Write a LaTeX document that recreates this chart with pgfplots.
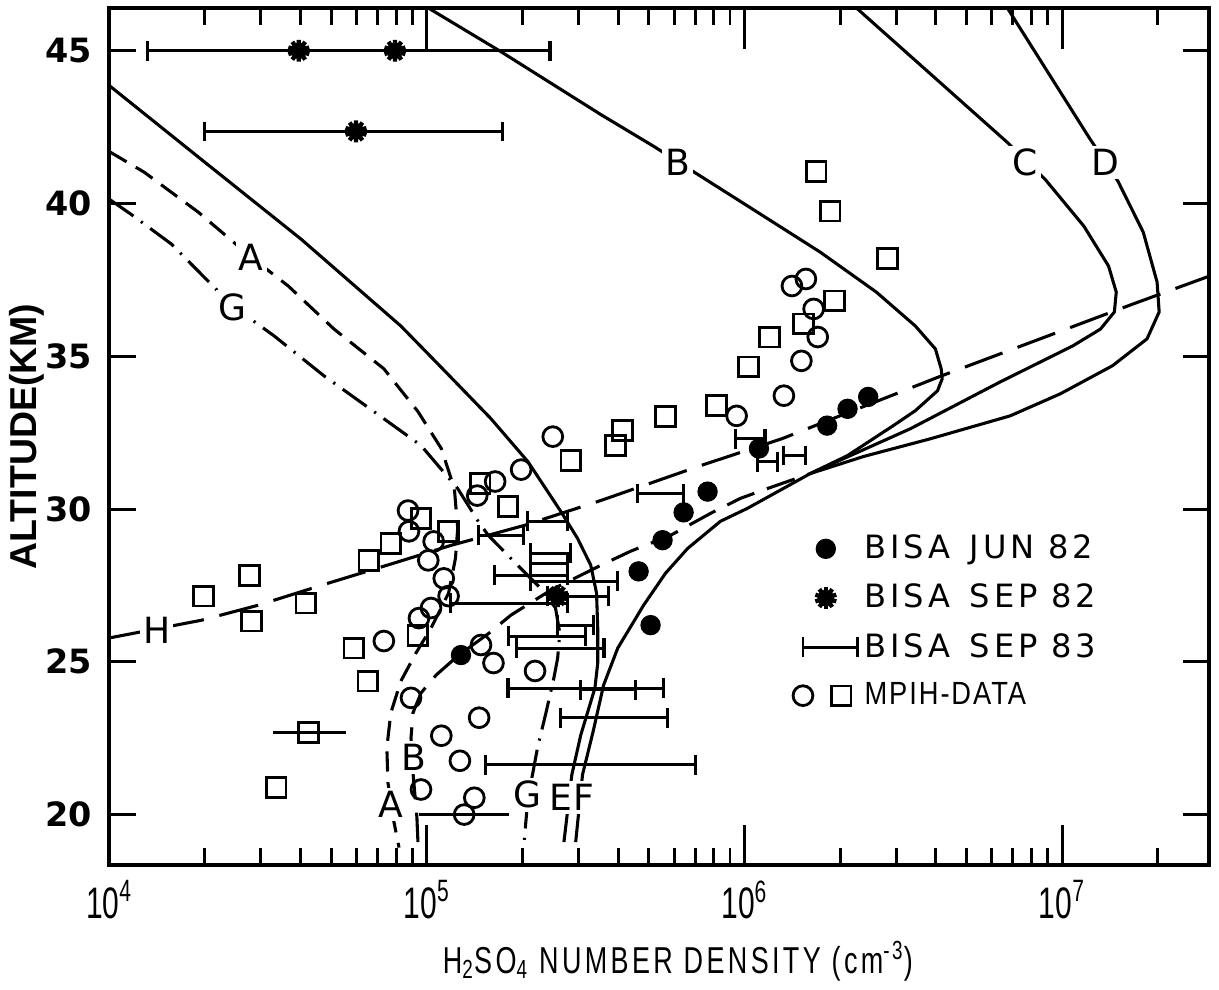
\documentclass[border=0pt]{standalone}
\usepackage{fontspec}
\setmainfont{DejaVu Sans}
\newfontfamily\condfont[FakeStretch=0.68]{Liberation Sans}
\newfontfamily\xlabfont[FakeStretch=0.72,LetterSpace=9]{Liberation Sans}
\newfontfamily\ylabfont{Liberation Sans}
\newfontfamily\legfont[LetterSpace=12]{DejaVu Sans}
\newfontfamily\mpihfont[FakeStretch=0.85,LetterSpace=6]{Liberation Sans}
\usepackage{pgfplots}
\pgfplotsset{compat=1.18}

\pgfplotsset{
  curve/.style={black, line width=1.15pt, no markers, forget plot},
  ebar/.style={black, line width=1.15pt, mark=|, mark size=3.7pt, mark options={solid}, forget plot},
  pbar/.style={black, line width=1.15pt, no markers, forget plot},
  tk/.style={black, line width=1.1pt, no markers, forget plot},
}
\tikzset{lab/.style={fill=white, inner sep=1.2pt, font=\fontsize{13.5}{13.5}\selectfont}}

\begin{document}
\begin{tikzpicture}
\begin{axis}[
  scale only axis,
  width=14.45cm, height=11.26cm,
  xmode=log, xmin=1e4, xmax=2.9e7,
  ymin=18.35, ymax=46.4,
  axis line style={line width=1.5pt},
  tick style={black, line width=1.1pt},
  xtick={1e4,1e5,1e6,1e7},
  xticklabels={10\textsuperscript{4},10\textsuperscript{5},10\textsuperscript{6},10\textsuperscript{7}},
  xticklabel style={font=\condfont\fontsize{16.5}{16.5}\selectfont, yshift=-0.08cm},
  ytick={20,25,30,35,40,45},
  yticklabels={20,25,30,35,40,45},
  yticklabel style={font=\fontsize{12.5}{13}\selectfont\bfseries, xshift=-0.1cm},
  xlabel={H\textsubscript{2}SO\textsubscript{4} NUMBER DENSITY (cm\textsuperscript{-3})},
  ylabel={ALTITUDE(KM)},
  every axis x label/.style={at={(axis description cs:0.517,-0.112)}, anchor=center, font=\xlabfont\fontsize{14}{14}\selectfont},
  every axis y label/.style={at={(axis description cs:-0.0754,0.5)}, rotate=90, anchor=center, font=\ylabfont\bfseries\fontsize{14}{14}\selectfont},
  legend style={draw=none, fill=none, at={(0.62,0.392)}, anchor=north west, row sep=4pt, inner sep=0pt, font=\legfont\fontsize{12}{12}\selectfont},
  legend cell align=left,
]

% tick marks as short segments inside the frame
\addplot[tk] coordinates {(1e5,18.35) (1e5,19.65)};
\addplot[tk] coordinates {(1e6,18.35) (1e6,19.65)};
\addplot[tk] coordinates {(1e7,18.35) (1e7,19.65)};
\addplot[tk] coordinates {(1e5,46.4) (1e5,45.05)};
\addplot[tk] coordinates {(1e6,46.4) (1e6,45.05)};
\addplot[tk] coordinates {(1e7,46.4) (1e7,45.05)};
\addplot[tk] coordinates {(2e4,18.35) (2e4,18.9)};
\addplot[tk] coordinates {(3e4,18.35) (3e4,18.9)};
\addplot[tk] coordinates {(4e4,18.35) (4e4,18.9)};
\addplot[tk] coordinates {(5e4,18.35) (5e4,18.9)};
\addplot[tk] coordinates {(6e4,18.35) (6e4,18.9)};
\addplot[tk] coordinates {(7e4,18.35) (7e4,18.9)};
\addplot[tk] coordinates {(8e4,18.35) (8e4,18.9)};
\addplot[tk] coordinates {(9e4,18.35) (9e4,18.9)};
\addplot[tk] coordinates {(2e5,18.35) (2e5,18.9)};
\addplot[tk] coordinates {(3e5,18.35) (3e5,18.9)};
\addplot[tk] coordinates {(4e5,18.35) (4e5,18.9)};
\addplot[tk] coordinates {(5e5,18.35) (5e5,18.9)};
\addplot[tk] coordinates {(6e5,18.35) (6e5,18.9)};
\addplot[tk] coordinates {(7e5,18.35) (7e5,18.9)};
\addplot[tk] coordinates {(8e5,18.35) (8e5,18.9)};
\addplot[tk] coordinates {(9e5,18.35) (9e5,18.9)};
\addplot[tk] coordinates {(2e6,18.35) (2e6,18.9)};
\addplot[tk] coordinates {(3e6,18.35) (3e6,18.9)};
\addplot[tk] coordinates {(4e6,18.35) (4e6,18.9)};
\addplot[tk] coordinates {(5e6,18.35) (5e6,18.9)};
\addplot[tk] coordinates {(6e6,18.35) (6e6,18.9)};
\addplot[tk] coordinates {(7e6,18.35) (7e6,18.9)};
\addplot[tk] coordinates {(8e6,18.35) (8e6,18.9)};
\addplot[tk] coordinates {(9e6,18.35) (9e6,18.9)};
\addplot[tk] coordinates {(2e7,18.35) (2e7,18.9)};
\addplot[tk] coordinates {(2e4,46.4) (2e4,45.85)};
\addplot[tk] coordinates {(3e4,46.4) (3e4,45.85)};
\addplot[tk] coordinates {(4e4,46.4) (4e4,45.85)};
\addplot[tk] coordinates {(5e4,46.4) (5e4,45.85)};
\addplot[tk] coordinates {(6e4,46.4) (6e4,45.85)};
\addplot[tk] coordinates {(7e4,46.4) (7e4,45.85)};
\addplot[tk] coordinates {(8e4,46.4) (8e4,45.85)};
\addplot[tk] coordinates {(9e4,46.4) (9e4,45.85)};
\addplot[tk] coordinates {(2e5,46.4) (2e5,45.85)};
\addplot[tk] coordinates {(3e5,46.4) (3e5,45.85)};
\addplot[tk] coordinates {(4e5,46.4) (4e5,45.85)};
\addplot[tk] coordinates {(5e5,46.4) (5e5,45.85)};
\addplot[tk] coordinates {(6e5,46.4) (6e5,45.85)};
\addplot[tk] coordinates {(7e5,46.4) (7e5,45.85)};
\addplot[tk] coordinates {(8e5,46.4) (8e5,45.85)};
\addplot[tk] coordinates {(9e5,46.4) (9e5,45.85)};
\addplot[tk] coordinates {(2e6,46.4) (2e6,45.85)};
\addplot[tk] coordinates {(3e6,46.4) (3e6,45.85)};
\addplot[tk] coordinates {(4e6,46.4) (4e6,45.85)};
\addplot[tk] coordinates {(5e6,46.4) (5e6,45.85)};
\addplot[tk] coordinates {(6e6,46.4) (6e6,45.85)};
\addplot[tk] coordinates {(7e6,46.4) (7e6,45.85)};
\addplot[tk] coordinates {(8e6,46.4) (8e6,45.85)};
\addplot[tk] coordinates {(9e6,46.4) (9e6,45.85)};
\addplot[tk] coordinates {(2e7,46.4) (2e7,45.85)};
\addplot[tk] coordinates {(1e4,20) (1.21e4,20)};
\addplot[tk] coordinates {(1e4,25) (1.21e4,25)};
\addplot[tk] coordinates {(1e4,30) (1.21e4,30)};
\addplot[tk] coordinates {(1e4,35) (1.21e4,35)};
\addplot[tk] coordinates {(1e4,40) (1.21e4,40)};
\addplot[tk] coordinates {(1e4,45) (1.21e4,45)};
\addplot[tk] coordinates {(2.9e7,20) (2.4e7,20)};
\addplot[tk] coordinates {(2.9e7,25) (2.4e7,25)};
\addplot[tk] coordinates {(2.9e7,30) (2.4e7,30)};
\addplot[tk] coordinates {(2.9e7,35) (2.4e7,35)};
\addplot[tk] coordinates {(2.9e7,40) (2.4e7,40)};
\addplot[tk] coordinates {(2.9e7,45) (2.4e7,45)};

% model curves
% E (solid, from upper left)
\addplot[curve] coordinates {(1.0e4,43.86) (1.95e4,41.44) (4.02e4,38.83) (8.28e4,35.99) (1.16e5,34.43) (1.59e5,32.96) (2.08e5,31.55) (2.64e5,29.92) (2.98e5,29.04) (3.28e5,28.16) (3.42e5,27.25) (3.45e5,26.10) (3.45e5,24.96) (3.38e5,24.14) (3.05e5,22.60) (2.86e5,21.31) (2.70e5,19.10)};
% F (solid, common lower branch)
\addplot[curve] coordinates {(1.61e6,31.16) (1.02e6,30.02) (8.40e5,29.60) (6.62e5,28.71) (5.64e5,27.90) (4.81e5,26.85) (3.99e5,25.45) (3.60e5,24.24) (3.33e5,22.68) (3.09e5,21.31) (2.94e5,19.10)};
% B (solid)
\addplot[curve] coordinates {(1.01e5,46.40) (1.71e5,44.97) (3.53e5,42.91) (5.18e5,41.87) (6.96e5,41.02) (1.10e6,39.71) (1.73e6,38.41) (2.60e6,37.10) (3.45e6,35.99) (3.99e6,35.24) (4.16e6,34.59) (4.19e6,34.26) (4.05e6,33.87) (3.45e6,33.22) (2.94e6,32.73) (2.11e6,31.75) (1.61e6,31.16)};
% C (solid)
\addplot[curve] coordinates {(2.25e6,46.40) (6.72e6,42.00) (8.84e6,40.79) (1.17e7,39.26) (1.40e7,37.95) (1.48e7,37.10) (1.46e7,36.45) (1.32e7,35.89) (1.08e7,35.34) (6.38e6,34.16) (3.33e6,32.63) (1.61e6,31.16)};
% D (solid)
\addplot[curve] coordinates {(6.72e6,46.40) (1.21e7,42.19) (1.50e7,40.72) (1.80e7,39.06) (1.99e7,37.43) (2.02e7,36.45) (1.85e7,35.57) (1.44e7,34.69) (9.86e6,33.77) (6.86e6,33.05) (3.85e6,32.30) (2.37e6,31.72) (1.61e6,31.16)};
% H (long dashes)
\addplot[curve, dash pattern=on 15pt off 6pt] coordinates {(1.0e4,25.78) (1.95e4,26.36) (2.94e4,26.85) (4.88e4,27.57) (7.82e4,28.22) (1.19e5,28.81) (2.02e5,29.46) (3.53e5,30.28) (7.27e5,31.42) (1.31e6,32.30) (4.10e6,34.33) (1.67e7,36.71) (2.90e7,37.62)};
% A (dashed)
\addplot[curve, dash pattern=on 7.5pt off 4pt] coordinates {(1.0e4,41.70) (1.29e4,41.02) (1.91e4,39.71) (2.80e4,38.24) (3.66e4,37.30) (5.10e4,35.89) (7.32e4,34.59) (9.37e4,33.19) (1.11e5,31.98) (1.22e5,30.67) (1.25e5,29.37) (1.23e5,28.39) (1.17e5,27.25) (1.03e5,26.10) (9.24e4,25.29) (8.28e4,24.37) (7.70e4,23.33) (7.48e4,22.19) (7.54e4,21.04) (7.88e4,19.74) (8.17e4,18.92)};
% B lower (dashed)
\addplot[curve, dash pattern=on 11pt off 5pt] coordinates {(9.37e4,19.10) (9.30e4,19.90) (9.04e4,21.37) (8.91e4,22.51) (9.04e4,23.33) (9.58e4,23.98) (1.07e5,24.57) (1.26e5,25.22) (1.57e5,25.94) (1.84e5,26.53) (2.45e5,27.34) (3.53e5,28.16) (4.38e5,28.62) (5.85e5,29.14) (7.82e5,29.86) (9.71e5,30.35) (1.18e6,30.67) (1.61e6,31.16)};
% G (dash-dot)
\addplot[curve, dash pattern=on 11pt off 3.5pt on 0.8pt off 3.5pt] coordinates {(1.0e4,40.14) (1.17e4,39.65) (1.57e4,38.67) (2.45e4,36.64) (3.30e4,35.67) (4.74e4,34.36) (6.81e4,33.19) (9.58e4,32.08) (1.25e5,30.67) (1.45e5,29.60) (1.56e5,29.14) (1.93e5,28.16) (2.33e5,27.31) (2.54e5,26.76) (2.62e5,25.94) (2.58e5,25.12) (2.51e5,24.47) (2.37e5,23.33) (2.23e5,22.19) (2.15e5,21.31) (2.08e5,20.55) (2.02e5,19.02)};

% BISA SEP 83 error bars
\addplot[ebar] coordinates {(1.32e4,45.0) (2.44e5,45.0)};
\addplot[ebar] coordinates {(1.99e4,42.36) (1.73e5,42.36)};
\addplot[ebar] coordinates {(9.38e5,32.30) (1.16e6,32.30)};
\addplot[ebar] coordinates {(1.10e6,31.55) (1.27e6,31.55)};
\addplot[ebar] coordinates {(1.33e6,31.75) (1.56e6,31.75)};
\addplot[ebar] coordinates {(4.61e5,30.51) (6.43e5,30.51)};
\addplot[ebar] coordinates {(2.08e5,29.60) (2.77e5,29.60)};
\addplot[ebar] coordinates {(1.45e5,29.14) (2.02e5,29.14)};
\addplot[ebar] coordinates {(2.12e5,28.55) (2.84e5,28.55)};
\addplot[ebar] coordinates {(2.12e5,28.22) (2.77e5,28.22)};
\addplot[ebar] coordinates {(1.63e5,27.83) (2.77e5,27.83)};
\addplot[ebar] coordinates {(2.12e5,27.64) (3.99e5,27.64)};
\addplot[ebar] coordinates {(2.40e5,27.15) (3.73e5,27.15)};
\addplot[ebar] coordinates {(1.19e5,26.92) (2.77e5,26.92)};
\addplot[ebar] coordinates {(2.58e5,26.20) (3.35e5,26.20)};
\addplot[ebar] coordinates {(1.81e5,25.84) (3.16e5,25.84)};
\addplot[ebar] coordinates {(1.91e5,25.45) (3.61e5,25.45)};
\addplot[ebar] coordinates {(1.80e5,24.14) (5.56e5,24.14)};
\addplot[ebar] coordinates {(3.05e5,24.08) (4.54e5,24.08)};
\addplot[ebar] coordinates {(2.64e5,23.17) (5.73e5,23.17)};
\addplot[ebar] coordinates {(1.53e5,21.63) (7.01e5,21.63)};
\addplot[pbar] coordinates {(9.44e4,20.0) (1.81e5,20.0)};
\addplot[pbar] coordinates {(3.28e4,22.68) (5.56e4,22.68)};
\addplot[pbar] coordinates {(1.0e5,45.0) (1.0e5,46.4)};

% MPIH circles
\addplot[only marks, mark=o, mark size=3.7pt, mark options={line width=1.05pt}, forget plot] coordinates {
(2.49e5,32.37) (1.98e5,31.29) (1.64e5,30.90) (1.44e5,30.44) (8.72e4,29.95) (8.78e4,29.27)
(1.05e5,28.94) (1.01e5,28.32) (1.13e5,27.73) (1.17e5,27.15) (1.03e5,26.76) (9.44e4,26.43)
(7.32e4,25.68) (1.48e5,25.55) (1.62e5,24.96) (8.91e4,23.82) (2.19e5,24.70) (1.46e5,23.17)
(1.11e5,22.58) (1.27e5,21.76) (9.58e4,20.82) (1.41e5,20.55) (1.31e5,20.00)
(1.33e6,33.71) (9.44e5,33.05) (1.56e6,37.53) (1.41e6,37.30) (1.65e6,36.55) (1.70e6,35.63) (1.51e6,34.85)};
% MPIH squares
\addplot[only marks, mark=square, mark size=3.7pt, mark options={line width=1.05pt}, forget plot] coordinates {
(2.84e5,31.59) (1.80e5,30.08) (1.47e5,30.84) (9.58e4,29.69) (1.17e5,29.27) (7.70e4,28.88)
(6.57e4,28.32) (2.76e4,27.83) (1.98e4,27.15) (4.16e4,26.92) (2.80e4,26.33) (9.37e4,25.87)
(5.89e4,25.45) (6.52e4,24.37) (4.23e4,22.68) (3.35e4,20.88)
(1.68e6,41.05) (1.86e6,39.75) (2.82e6,38.21) (1.92e6,36.81) (1.53e6,36.06) (1.20e6,35.63)
(1.03e6,34.65) (8.17e5,33.38) (5.64e5,33.02) (4.13e5,32.57) (3.93e5,32.08)};
% BISA JUN 82
\addplot[only marks, mark=*, mark size=3.6pt, forget plot] coordinates {
(1.28e5,25.22) (5.06e5,26.20) (4.64e5,27.96) (5.52e5,28.98) (6.43e5,29.89) (7.65e5,30.57)
(1.11e6,31.98) (1.82e6,32.73) (2.11e6,33.28) (2.45e6,33.67)};
% BISA SEP 82 (filled core + spikes)
\addplot[only marks, mark=*, mark size=2.9pt, forget plot] coordinates {
(3.95e4,45.0) (7.93e4,45.0) (5.98e4,42.36) (2.58e5,27.15)};
\addplot[only marks, mark=10-pointed star, mark size=4.1pt, mark options={line width=1.6pt}, forget plot] coordinates {
(3.95e4,45.0) (7.93e4,45.0) (5.98e4,42.36) (2.58e5,27.15)};

% legend
\addlegendimage{only marks, mark=*, mark size=3.6pt}
\addlegendentry{BISA\hspace{0.6em}JUN 82}
\addlegendimage{legend image code/.code={\fill (0.3cm,0pt) circle (2.9pt); \foreach \a in {0,36,...,324}{\draw[line width=1.6pt] (0.3cm,0pt) -- ++(\a+90:4.1pt);}}}
\addlegendentry{BISA\hspace{0.6em}SEP 82}
\addlegendimage{legend image code/.code={\draw[line width=1.1pt] (0cm,-3.7pt) -- (0cm,3.7pt) (0cm,0pt) -- (0.72cm,0pt) (0.72cm,-3.7pt) -- (0.72cm,3.7pt);}}
\addlegendentry{BISA\hspace{0.6em}SEP 83}
\addlegendimage{legend image code/.code={\draw[line width=1.05pt] (0.0cm,0pt) circle (3.7pt); \draw[line width=1.05pt] (0.38cm,-3.6pt) rectangle (0.63cm,3.6pt);}}
\addlegendentry{{\mpihfont MPIH-DATA}}

% curve labels
\node[lab] at (axis cs:2.80e4,38.24) {A};
\node[lab] at (axis cs:2.45e4,36.61) {G};
\node[lab] at (axis cs:6.16e5,41.34) {B};
\node[lab] at (axis cs:7.65e6,41.34) {C};
\node[lab] at (axis cs:1.37e7,41.34) {D};
\node[lab] at (axis cs:1.41e4,26.04) {H};
\node[lab] at (axis cs:7.70e4,20.33) {A};
\node[lab] at (axis cs:9.10e4,21.86) {B};
\node[lab] at (axis cs:2.08e5,20.65) {G};
\node[lab] at (axis cs:2.64e5,20.55) {E};
\node[lab] at (axis cs:3.12e5,20.55) {F};
\end{axis}
\path ([shift={(-1.4175cm,-1.614cm)}]current axis.south west) rectangle ([shift={(0.131cm,0.105cm)}]current axis.north east);
\end{tikzpicture}
\end{document}
